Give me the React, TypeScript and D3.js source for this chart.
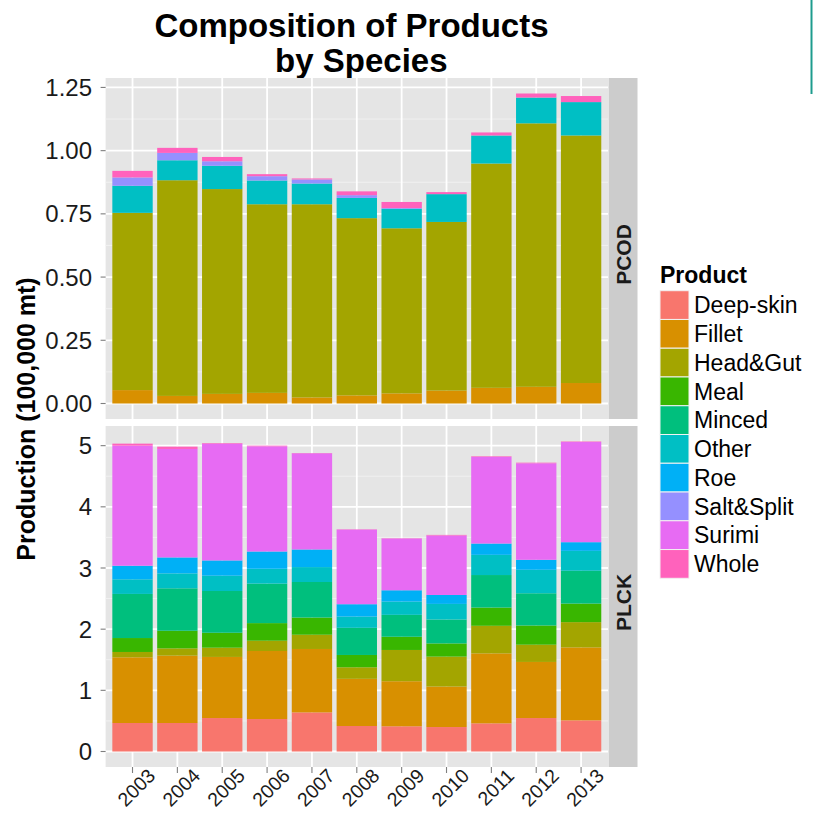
import * as d3 from "d3";

// categories
const years = ["2003", "2004", "2005", "2006", "2007", "2008", "2009", "2010", "2011", "2012", "2013"];
const products = ["Deep-skin", "Fillet", "Head&Gut", "Meal", "Minced", "Other", "Roe", "Salt&Split", "Surimi", "Whole"];
const productColors = ["#F8766D", "#D89000", "#A3A500", "#39B600", "#00BF7D", "#00BFC4", "#00B0F6", "#9590FF", "#E76BF3", "#FF62BC"];

// PCOD (100,000 mt)
const zeros = [0, 0, 0, 0, 0, 0, 0, 0, 0, 0, 0];
const pcodFillet = [0.053, 0.030, 0.038, 0.042, 0.024, 0.032, 0.040, 0.051, 0.062, 0.066, 0.081];
const pcodHeadGut = [0.701, 0.853, 0.810, 0.746, 0.764, 0.701, 0.653, 0.667, 0.887, 1.042, 0.979];
const pcodOther = [0.107, 0.079, 0.092, 0.094, 0.082, 0.080, 0.077, 0.110, 0.111, 0.102, 0.132];
const pcodSaltSplit = [0.033, 0.029, 0.018, 0.017, 0.016, 0.011, 0.003, 0, 0, 0, 0];
const pcodWhole = [0.026, 0.020, 0.017, 0.008, 0.004, 0.015, 0.024, 0.008, 0.012, 0.016, 0.024];

// PLCK (100,000 mt)
const plckDeepSkin = [0.466, 0.466, 0.547, 0.531, 0.639, 0.417, 0.412, 0.400, 0.460, 0.547, 0.509];
const plckFillet = [1.074, 1.101, 0.999, 1.112, 1.037, 0.771, 0.737, 0.662, 1.144, 0.917, 1.193];
const plckHeadGut = [0.087, 0.119, 0.151, 0.168, 0.233, 0.189, 0.511, 0.489, 0.451, 0.282, 0.413];
const plckMeal = [0.228, 0.288, 0.244, 0.288, 0.281, 0.201, 0.216, 0.216, 0.298, 0.314, 0.303];
const plckMinced = [0.721, 0.694, 0.683, 0.645, 0.581, 0.444, 0.358, 0.391, 0.532, 0.527, 0.537];
const plckOther = [0.239, 0.244, 0.250, 0.243, 0.244, 0.184, 0.217, 0.255, 0.330, 0.384, 0.325];
const plckRoe = [0.222, 0.261, 0.250, 0.283, 0.288, 0.202, 0.185, 0.146, 0.185, 0.163, 0.142];
const plckSurimi = [1.963, 1.773, 1.909, 1.719, 1.572, 1.220, 0.846, 0.972, 1.416, 1.578, 1.638];
const plckWhole = [0.033, 0.038, 0.010, 0.011, 0.005, 0.005, 0.005, 0.010, 0.010, 0.010, 0.008];

const pcodTicks = [0, 0.25, 0.5, 0.75, 1, 1.25];
const plckTicks = [0, 1, 2, 3, 4, 5];

const pcodSeries = [zeros, pcodFillet, pcodHeadGut, zeros, zeros, pcodOther, zeros, pcodSaltSplit, zeros, pcodWhole];
const plckSeries = [plckDeepSkin, plckFillet, plckHeadGut, plckMeal, plckMinced, plckOther, plckRoe, zeros, plckSurimi, plckWhole];

const FONT = "'Liberation Sans', Arial, Helvetica, sans-serif";

function toRows(series: number[][]) {
  return years.map((yr, i) => {
    const row: any = { year: yr };
    products.forEach((p, k) => (row[p] = series[k][i]));
    return row;
  });
}

const panelL = 105.6;
const panelR = 608;
const stripW = 29;

const x = d3.scaleBand().domain(years).range([panelL, panelR]).paddingInner(0.1).paddingOuter(0.15);
const color = d3.scaleOrdinal<string, string>().domain(products).range(productColors);

function Panel({ series, top, bottom, ticks, fmt, label }: any) {
  const rows = toRows(series);
  const stacked = d3.stack<any>().keys(products)(rows);
  const max = d3.max(rows, (r: any) => d3.sum(products, (p) => r[p])) as number;
  const y = d3.scaleLinear().domain([-0.05 * max, 1.05 * max]).range([bottom, top]);
  const [d0, d1] = y.domain();
  const step = ticks[1] - ticks[0];
  const minor = ticks.map((t: number) => t + step / 2).filter((t: number) => t > d0 && t < d1);
  return (
    <g>
      <rect x={panelL} y={top} width={panelR - panelL} height={bottom - top} fill="#E5E5E5" />
      {minor.map((t: number) => (
        <line key={"m" + t} x1={panelL} x2={panelR} y1={y(t)} y2={y(t)} stroke="#F2F2F2" strokeWidth={0.9} />
      ))}
      {ticks.map((t: number) => (
        <line key={"g" + t} x1={panelL} x2={panelR} y1={y(t)} y2={y(t)} stroke="#fff" strokeWidth={1.8} />
      ))}
      {years.map((yr) => (
        <line key={"v" + yr} x1={x(yr)! + x.bandwidth() / 2} x2={x(yr)! + x.bandwidth() / 2} y1={top} y2={bottom} stroke="#fff" strokeWidth={1.8} />
      ))}
      {stacked.map((layer: any) => (
        <g key={layer.key} fill={color(layer.key)}>
          {layer.map((d: any, i: number) =>
            d[1] - d[0] > 0 ? (
              <rect key={i} x={x(d.data.year)} width={x.bandwidth()} y={y(d[1])} height={y(d[0]) - y(d[1])} />
            ) : null
          )}
        </g>
      ))}
      {ticks.map((t: number) => (
        <g key={"t" + t}>
          <line x1={panelL - 5} x2={panelL} y1={y(t)} y2={y(t)} stroke="#7F7F7F" strokeWidth={1.1} />
          <text x={92} y={y(t)} dy="0.36em" textAnchor="end" fontSize={24} fill="#1a1a1a" fontFamily={FONT}>
            {fmt(t)}
          </text>
        </g>
      ))}
      <rect x={panelR + 0.5} y={top} width={stripW} height={bottom - top} fill="#CCCCCC" />
      <text
        transform={`translate(${panelR + 0.5 + stripW / 2},${(top + bottom) / 2 + 6}) rotate(-90)`}
        textAnchor="middle"
        dy="0.36em"
        fontSize={21}
        fontWeight="bold"
        fill="#1a1a1a"
        fontFamily={FONT}
      >
        {label}
      </text>
    </g>
  );
}

export default function App() {
  const keyTop = 290.7;
  const keyH = 28.76;
  const bottomAxis = 767;
  return (
    <svg width={813} height={817} style={{ position: "absolute", left: 0, top: 0, background: "#fff" }} fontFamily={FONT}>
      <rect width={813} height={817} fill="#fff" />
      <text x={351.5} y={37} textAnchor="middle" fontSize={33} fontWeight="bold" fill="#000">
        Composition of Products
      </text>
      <text x={361.3} y={71.5} textAnchor="middle" fontSize={33} fontWeight="bold" fill="#000">
        by Species
      </text>

      <Panel series={pcodSeries} top={78} bottom={419} ticks={pcodTicks} fmt={d3.format(".2f")} label="PCOD" />
      <Panel series={plckSeries} top={426} bottom={bottomAxis} ticks={plckTicks} fmt={d3.format("d")} label="PLCK" />

      {years.map((yr) => {
        const cx = x(yr)! + x.bandwidth() / 2;
        return (
          <g key={yr}>
            <line x1={cx} x2={cx} y1={bottomAxis} y2={bottomAxis + 6} stroke="#7F7F7F" strokeWidth={1.1} />
            <text transform={`translate(${cx + 24},${bottomAxis + 10}) rotate(-45)`} textAnchor="end" fontSize={19.5} fill="#1a1a1a">
              {yr}
            </text>
          </g>
        );
      })}

      <text transform="translate(35,419) rotate(-90)" textAnchor="middle" fontSize={25} fontWeight="bold" fill="#000">
        Production (100,000 mt)
      </text>

      <text x={660} y={283} fontSize={23} fontWeight="bold" fill="#000">
        Product
      </text>
      {products.map((p, i) => (
        <g key={p}>
          <rect x={660} y={keyTop + i * keyH} width={29} height={keyH} fill={color(p)} stroke="#F2F2F2" strokeWidth={1} />
          <text x={694} y={keyTop + i * keyH + keyH / 2} dy="0.36em" fontSize={23} fill="#000">
            {p}
          </text>
        </g>
      ))}

      <line x1={811.5} x2={811.5} y1={0} y2={94} stroke="#1E9C8E" strokeWidth={2} />
    </svg>
  );
}
